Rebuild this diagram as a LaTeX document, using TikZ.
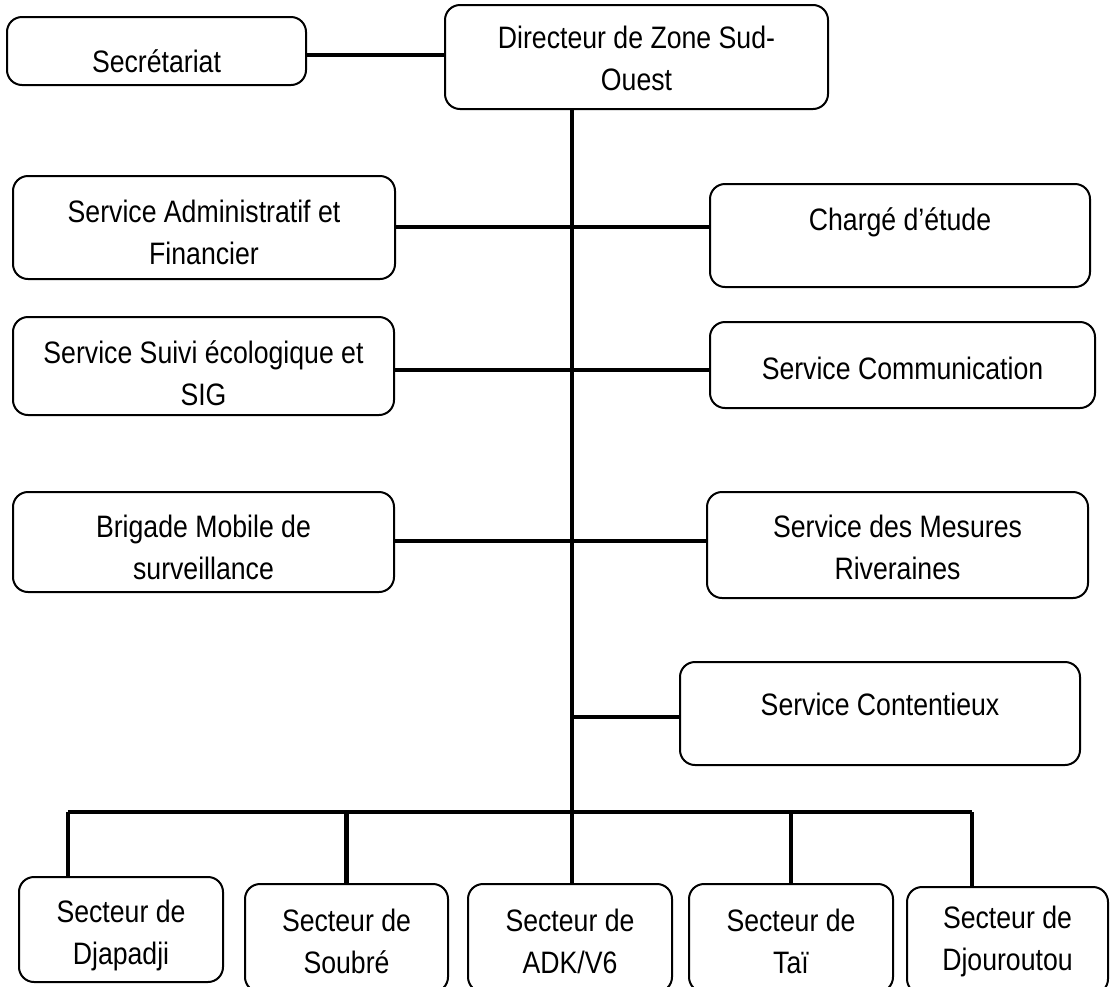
\documentclass[tikz,border=0pt]{standalone}
\usepackage{fontspec}
\setmainfont{Liberation Sans}[FakeStretch=0.86]
\tikzset{
  box/.style={draw, line width=2pt, rounded corners=15pt, inner sep=0pt},
  txt/.style={align=center, inner sep=0pt, font=\fontsize{31}{42}\selectfont},
  conn/.style={line width=4.5pt},
}
\begin{document}
\begin{tikzpicture}[x=1pt, y=-1pt]
      \useasboundingbox (0,0) rectangle (1110,986);
      % top
      \node[box, minimum width=299, minimum height=68,
        label={[txt, yshift=-10pt]center:Secrétariat}] (sec) at (156.5,51) {};
      \node[box, minimum width=383, minimum height=104,
        label={[txt, yshift=-1.5pt]center:Directeur de Zone Sud-\\Ouest}] (dir) at (636.5,57) {};
      % services
      \node[box, minimum width=382, minimum height=103,
        label={[txt, yshift=-5pt]center:Service Administratif et\\Financier}] (saf) at (204,227.5) {};
      \node[box, minimum width=380, minimum height=103,
        label={[txt, yshift=13.5pt]center:Chargé d’étude}] (etude) at (900,235.5) {};
      \node[box, minimum width=381, minimum height=98,
        label={[txt, yshift=-7.5pt]center:Service Suivi écologique et\\SIG}] (sig) at (203.5,366) {};
      \node[box, minimum width=385, minimum height=86,
        label={[txt, yshift=-3pt]center:Service Communication}] (com) at (902.5,365) {};
      \node[box, minimum width=381, minimum height=100,
        label={[txt, yshift=-5.7pt]center:Brigade Mobile de\\surveillance}] (brig) at (203.5,542) {};
      \node[box, minimum width=381, minimum height=106,
        label={[txt, yshift=-2.7pt]center:Service des Mesures\\Riveraines}] (mes) at (897.5,545) {};
      \node[box, minimum width=400, minimum height=103,
        label={[txt, yshift=9.5pt]center:Service Contentieux}] (cont) at (880,713.5) {};
      % secteurs
      \node[box, minimum width=204, minimum height=105,
        label={[txt, yshift=-5.5pt]center:Secteur de\\Djapadji}] (djap) at (121,929.5) {};
      \node[box, minimum width=203, minimum height=108,
        label={[txt, yshift=-3pt]center:Secteur de\\Soubré}] (soub) at (346.5,938) {};
      \node[box, minimum width=204, minimum height=108,
        label={[txt, yshift=-3pt]center:Secteur de\\ADK/V6}] (adk) at (570,938) {};
      \node[box, minimum width=204, minimum height=108,
        label={[txt, yshift=-3pt]center:Secteur de\\Taï}] (tai) at (791,938) {};
      \node[box, minimum width=201, minimum height=107,
        label={[txt, yshift=-0.5pt]center:Secteur de\\Djouroutou}] (djou) at (1007.5,940.5) {};
      \coordinate (spine) at (572,109);
      \coordinate (busL) at (68,812);
      \coordinate (busR) at (972,812);
      \begin{scope}[conn]
        \draw (sec.east |- 0,55) -- (dir.west |- 0,55);
        \draw (spine) -- (spine |- adk.north);
        \draw (saf.east |- 0,227) -- (etude.west |- 0,227);
        \draw (sig.east |- 0,370) -- (com.west |- 0,370);
        \draw (brig.east |- 0,541) -- (mes.west |- 0,541);
        \draw (spine |- 0,717) -- (cont.west |- 0,717);
        \draw (busL) -- (busR);
        \draw (busL) -- (busL |- djap.north);
        \draw (soub.north) -- (soub.north |- busL);
        \draw (tai.north) -- (tai.north |- busL);
        \draw (busR) -- (busR |- djou.north);
      \end{scope}
    \end{tikzpicture}
\end{document}
